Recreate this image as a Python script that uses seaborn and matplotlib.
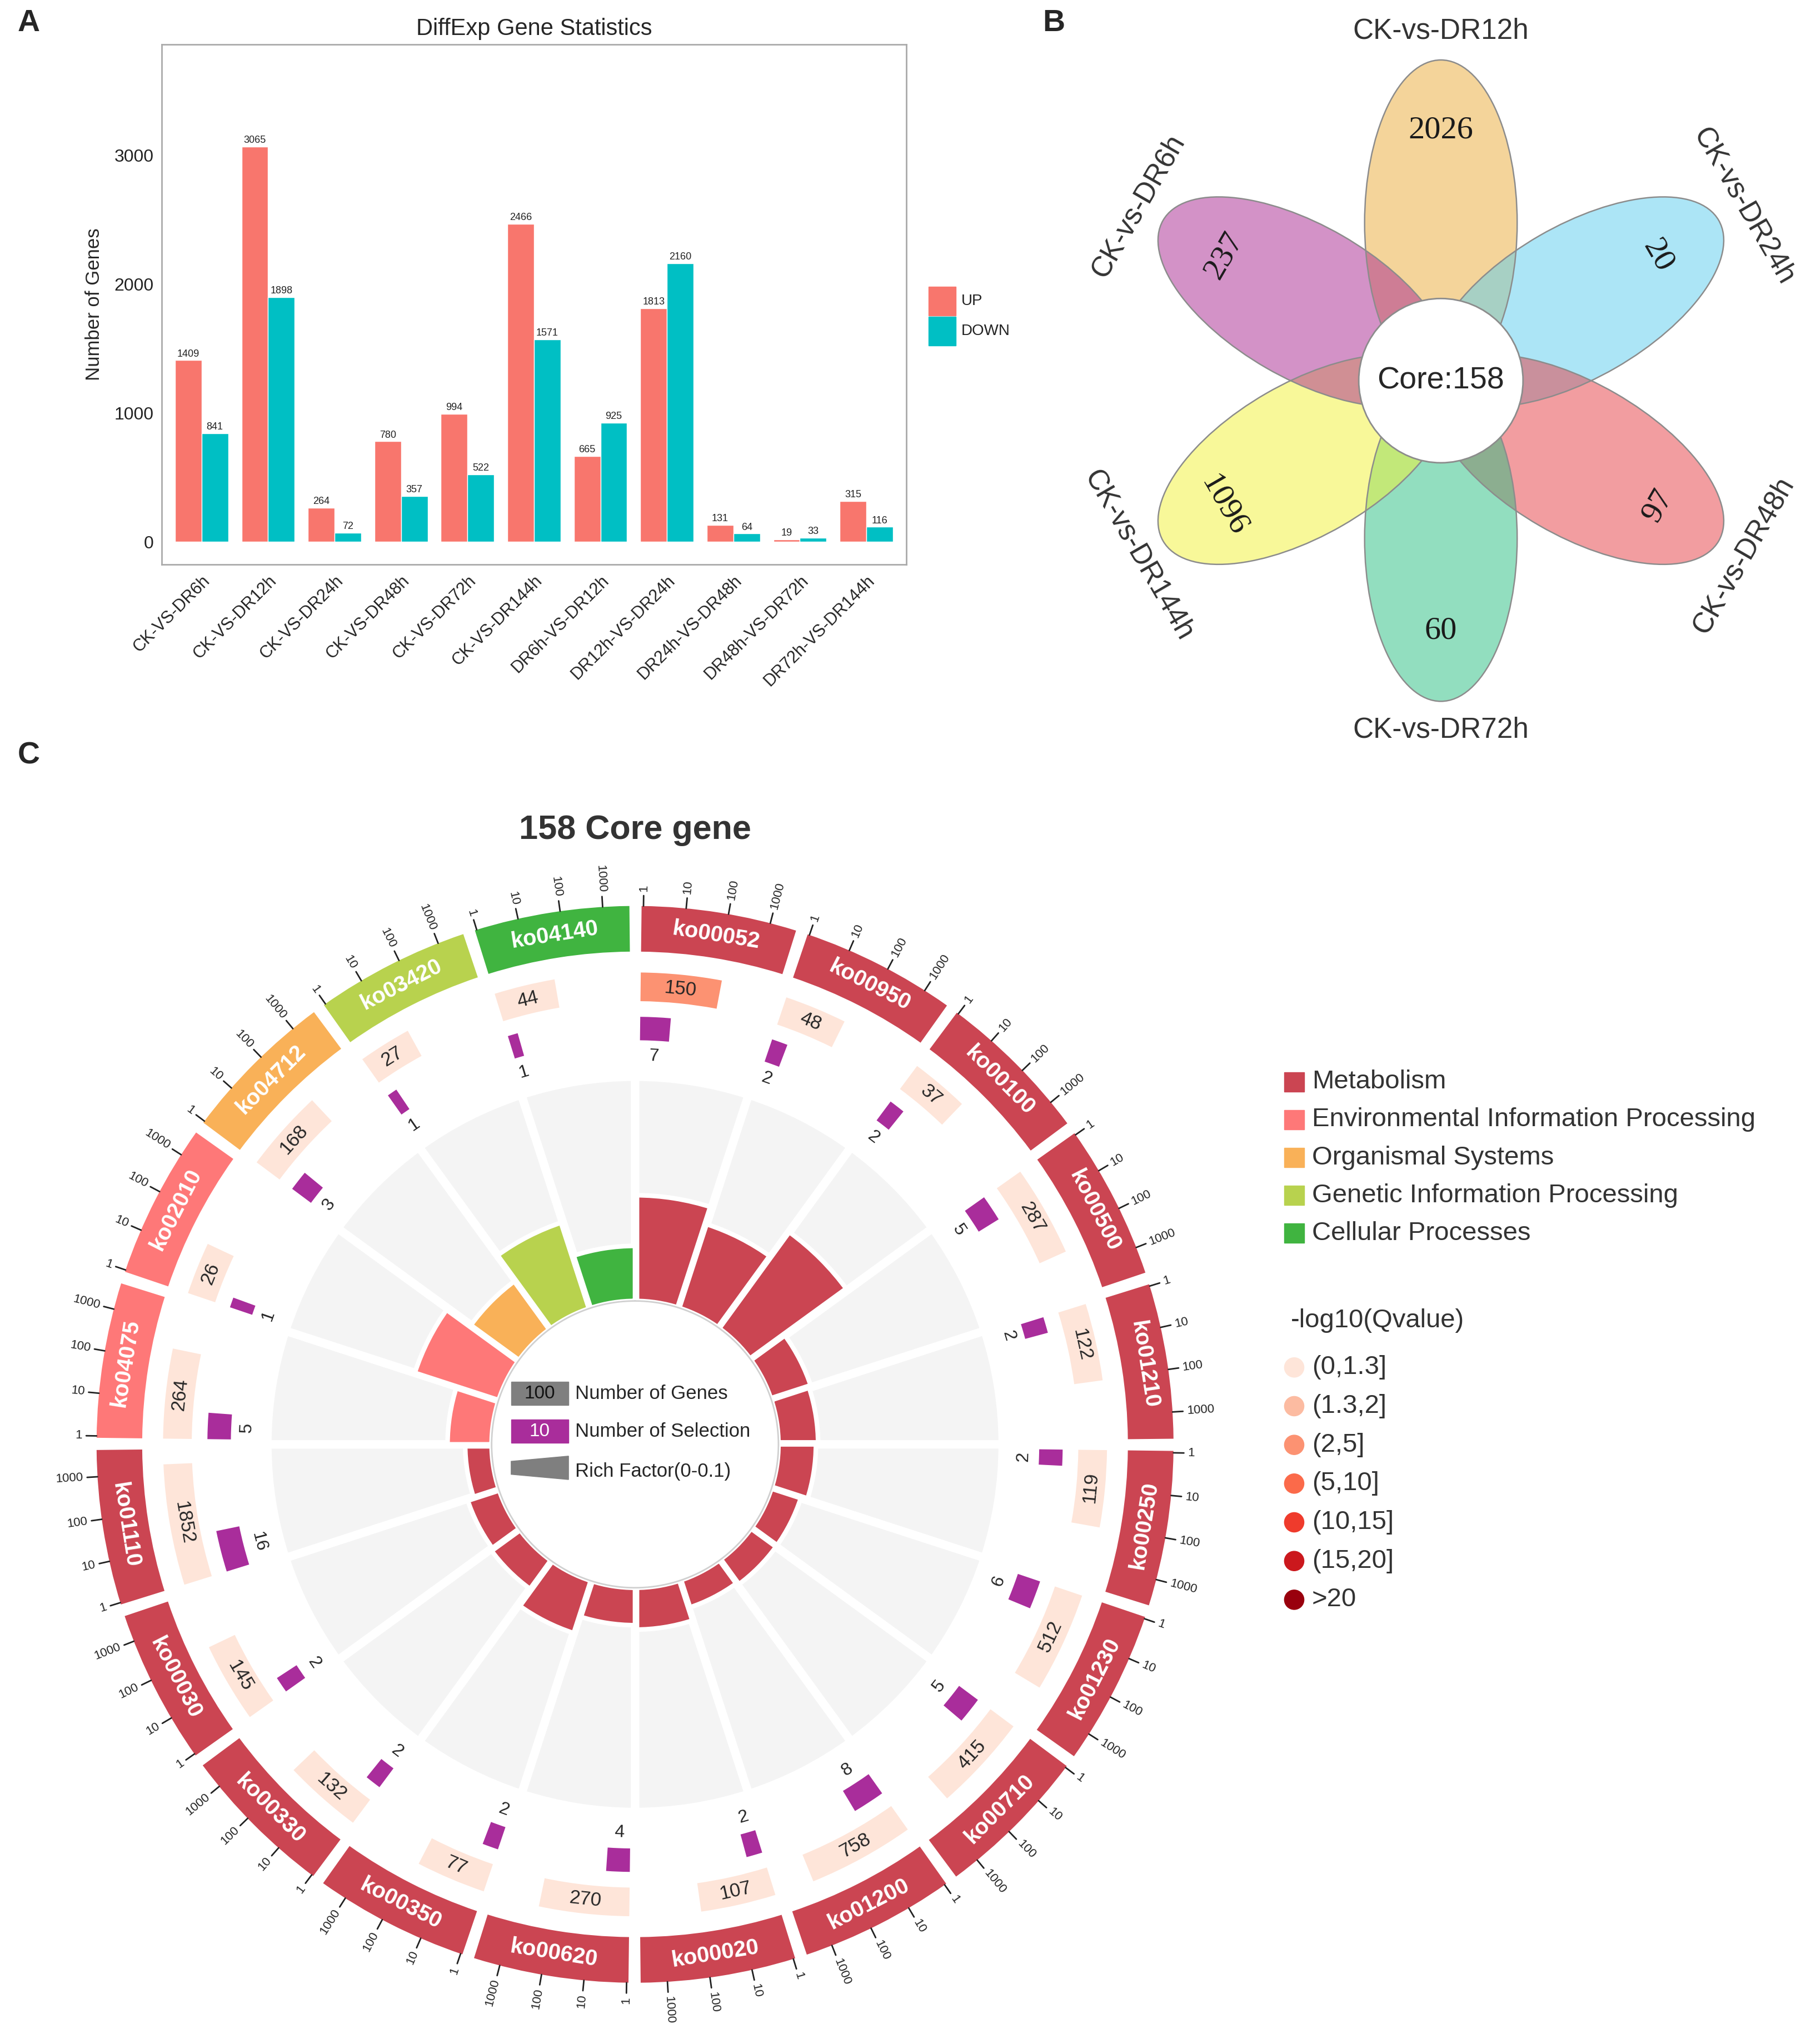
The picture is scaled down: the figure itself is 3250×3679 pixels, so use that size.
import numpy as np
import pandas as pd
import seaborn as sns
import matplotlib
matplotlib.use("Agg")
import matplotlib.pyplot as plt
from matplotlib.patches import Ellipse, Circle, Rectangle, Polygon

# =============================================================================
# Data
# =============================================================================
# panel A: DEG counts
groups = ["CK-VS-DR6h", "CK-VS-DR12h", "CK-VS-DR24h", "CK-VS-DR48h", "CK-VS-DR72h",
          "CK-VS-DR144h", "DR6h-VS-DR12h", "DR12h-VS-DR24h", "DR24h-VS-DR48h",
          "DR48h-VS-DR72h", "DR72h-VS-DR144h"]
up = [1409, 3065, 264, 780, 994, 2466, 665, 1813, 131, 19, 315]
down = [841, 1898, 72, 357, 522, 1571, 925, 2160, 64, 33, 116]
deg_types = ["UP", "DOWN"]
deg_colors = ["#F8766D", "#00BFC4"]

# panel B: flower venn
venn_names = ["CK-vs-DR12h", "CK-vs-DR24h", "CK-vs-DR48h", "CK-vs-DR72h",
              "CK-vs-DR144h", "CK-vs-DR6h"]
venn_unique = [2026, 20, 97, 60, 1096, 237]
venn_colors = ["#EBAB37", "#5BCDEF", "#E73D43", "#27BF81", "#F3F335", "#A92791"]
core_n = 158

# panel C: KEGG circle of the core genes
cats = ["Metabolism", "Environmental Information Processing", "Organismal Systems",
        "Genetic Information Processing", "Cellular Processes"]
cat_colors = ["#CB4552", "#FE7878", "#F9B158", "#B8D24E", "#40B440"]
ko_ids = ["ko00052", "ko00950", "ko00100", "ko00500", "ko01210", "ko00250", "ko01230",
          "ko00710", "ko01200", "ko00020", "ko00620", "ko00350", "ko00330", "ko00030",
          "ko01110", "ko04075", "ko02010", "ko04712", "ko03420", "ko04140"]
ko_cat = [0, 0, 0, 0, 0, 0, 0, 0, 0, 0, 0, 0, 0, 0, 0, 1, 1, 2, 3, 4]
n_genes = [150, 48, 37, 287, 122, 119, 512, 415, 758, 107, 270, 77, 132, 145, 1852,
           264, 26, 168, 27, 44]
n_select = [7, 2, 2, 5, 2, 2, 6, 5, 8, 2, 4, 2, 2, 2, 16, 5, 1, 3, 1, 1]
rich = [0.048, 0.040, 0.054, 0.019, 0.018, 0.017, 0.014, 0.014, 0.013, 0.019, 0.017,
        0.025, 0.016, 0.015, 0.012, 0.020, 0.040, 0.027, 0.041, 0.025]
q_bin = [2, 0, 0, 0, 0, 0, 0, 0, 0, 0, 0, 0, 0, 0, 0, 0, 0, 0, 0, 0]
q_labels = ["(0,1.3]", "(1.3,2]", "(2,5]", "(5,10]", "(10,15]", "(15,20]", ">20"]
q_colors = ["#FEE5D9", "#FCBBA1", "#FC9272", "#FB6A4A", "#EF3B2C", "#CB181D", "#99000D"]

# =============================================================================
# Figure
# =============================================================================
sns.set_style("white")
plt.rcParams["font.family"] = ["Liberation Sans", "DejaVu Sans"]
W, H = 1385, 1568     # layout units (preview pixels)
fig = plt.figure(figsize=(32.5, 36.79), dpi=100)

#%% Panel A - grouped bars
axA = fig.add_axes([124 / W, 1 - 433 / H, (695 - 124) / W, (433 - 34) / H])
dfA = pd.DataFrame({"group": groups * 2,
                    "type": ["UP"] * len(up) + ["DOWN"] * len(down),
                    "value": up + down})
sns.barplot(data=dfA, x="group", y="value", hue="type", hue_order=deg_types,
            palette=deg_colors, saturation=1, width=0.8, errorbar=None,
            legend=False, ax=axA)
for cont in axA.containers:
    axA.bar_label(cont, fontsize=13, padding=2, color="#222222")
axA.set_xlim(-0.6, len(groups) - 0.4)
axA.set_ylim(-175, 3860)
axA.set_yticks([0, 1000, 2000, 3000])
axA.tick_params(axis="y", labelsize=23, length=7, width=1.5, color="#333333",
                labelcolor="#222222")
axA.tick_params(axis="x", length=7, width=1.5, color="#333333", labelcolor="#222222")
axA.set_xticks(range(len(groups)))
axA.set_xticklabels(groups, rotation=45, ha="right", rotation_mode="anchor", fontsize=22)
axA.set_xlabel("")
axA.set_ylabel("Number of Genes", fontsize=25, labelpad=14)
axA.set_title("DiffExp Gene Statistics", fontsize=30, pad=12)
for sp in axA.spines.values():
    sp.set_color("#AAAAAA")
    sp.set_linewidth(2)

#%% Panel C - circular enrichment plot (polar axes)
cx, cy, RMAX = 487, 1108, 470
axC = fig.add_axes([(cx - RMAX) / W, 1 - (cy + RMAX) / H, 2 * RMAX / W, 2 * RMAX / H],
                   projection="polar")
axC.set_theta_zero_location("N")
axC.set_theta_direction(-1)
axC.set_ylim(0, RMAX)
axC.axis("off")

R0, L = 110, 169                  # inner circle, length of rich 0-0.1
SEC, OFF, DEC = 18.0, 0.7, 4.55  # sector width, ring start offset, degrees per decade
rad = np.deg2rad


def trot(t):
    t = t % 360
    return -t if (t <= 90 or t >= 270) else 180 - t


for i, ko in enumerate(ko_ids):
    s = i * SEC
    o = s + OFF
    col = cat_colors[ko_cat[i]]
    # background wedge
    axC.bar(rad(s + SEC / 2), L + 3, width=rad(SEC), bottom=R0, color="#F4F4F4",
            edgecolor="white", linewidth=11)
    # rich factor
    axC.bar(rad(s + SEC / 2), rich[i] / 0.1 * L, width=rad(SEC), bottom=R0, color=col,
            edgecolor="white", linewidth=6)
    # outer ring with ko id
    axC.bar(rad(o + (SEC - 1.3) / 2), 35, width=rad(SEC - 1.3), bottom=378, color=col,
            linewidth=0)
    mid = o + (SEC - 1.3) / 2
    axC.text(rad(mid), 395.5, ko, color="white", fontsize=29, fontweight="bold",
             rotation=trot(mid), rotation_mode="anchor", ha="center", va="center")
    # log ticks
    for d in range(4):
        t = o + 0.2 + d * DEC
        axC.plot([rad(t), rad(t)], [413, 421], color="#222222", lw=2)
        if t % 360 < 180:
            rot, ha = 90 - t, "left"
        else:
            rot, ha = 270 - t, "right"
        axC.text(rad(t), 424, str(10 ** d), fontsize=16, rotation=rot,
                 rotation_mode="anchor", ha=ha, va="center", color="#222222")
    # number of genes
    wg = np.log10(n_genes[i]) * DEC
    axC.bar(rad(o + wg / 2), 22, width=rad(wg), bottom=340, color=q_colors[q_bin[i]],
            linewidth=0)
    axC.text(rad(o + wg / 2), 351, str(n_genes[i]), fontsize=25,
             rotation=trot(o + wg / 2), rotation_mode="anchor", ha="center", va="center")
    # number of selection
    ws = np.log10(n_select[i] + 1) * DEC
    axC.bar(rad(o + ws / 2), 18, width=rad(ws), bottom=310, color="#A92D9B", linewidth=0)
    axC.text(rad(o + ws / 2), 298, str(n_select[i]), fontsize=23,
             rotation=trot(o + ws / 2), rotation_mode="anchor", ha="center", va="center")

th = np.linspace(0, 2 * np.pi, 400)
axC.plot(th, np.full_like(th, R0), color="#D0D0D0", lw=2)

#%% Overlay axes: panel B, labels, legends
axO = fig.add_axes([0, 0, 1, 1])
axO.set_xlim(0, W)
axO.set_ylim(H, 0)
axO.axis("off")

for x, y, lab in [(22, 18, "A"), (808, 18, "B"), (22, 580, "C")]:
    axO.text(x, y, lab, fontsize=40, fontweight="bold", ha="center", va="center")

# legend of panel A
for k, (lab, col) in enumerate(zip(deg_types, deg_colors)):
    y = 220 + 23 * k
    axO.add_patch(Rectangle((712, y), 21, 22, color=col))
    axO.text(737, y + 11, lab, fontsize=20, ha="left", va="center", color="#222222")

# flower venn
vx, vy = 1105, 292
petal_ang = [90, 30, -30, -90, 210, 150]
for col, a in zip(venn_colors, petal_ang):
    ra = np.deg2rad(a)
    axO.add_patch(Ellipse((vx + 121 * np.cos(ra), vy - 121 * np.sin(ra)), 250, 117,
                          angle=-a, facecolor=col, alpha=0.5, edgecolor="none"))
for col, a in zip(venn_colors, petal_ang):
    ra = np.deg2rad(a)
    axO.add_patch(Ellipse((vx + 121 * np.cos(ra), vy - 121 * np.sin(ra)), 250, 117,
                          angle=-a, fill=False, edgecolor="#8C8C8C", lw=1.8))
for name, val, a in zip(venn_names, venn_unique, petal_ang):
    ra = np.deg2rad(a)
    rot = (a % 180) - 90
    axO.text(vx + 192 * np.cos(ra), vy - 192 * np.sin(ra), str(val), rotation=rot,
             fontsize=42, family=["Liberation Serif", "DejaVu Serif"], ha="center",
             va="center", color="#1A1A1A")
    axO.text(vx + 268 * np.cos(ra), vy - 268 * np.sin(ra), name, rotation=rot,
             fontsize=37, ha="center", va="center", color="#333333")
axO.add_patch(Circle((vx, vy), 63, facecolor="white", edgecolor="#8C8C8C", lw=2))
axO.text(vx, vy, "Core:%d" % core_n, fontsize=40, ha="center", va="center")

# panel C title and inner legend
axO.text(487, 637, "158 Core gene", fontsize=44, fontweight="bold", ha="center",
         va="center", color="#333333")
axO.add_patch(Rectangle((392, 1060), 44, 18, color="#7F7F7F"))
axO.text(414, 1069, "100", fontsize=24, ha="center", va="center", color="#111111")
axO.text(441, 1069, "Number of Genes", fontsize=25, ha="left", va="center")
axO.add_patch(Rectangle((392, 1089), 44, 18, color="#A92D9B"))
axO.text(414, 1098, "10", fontsize=24, ha="center", va="center", color="white")
axO.text(441, 1098, "Number of Selection", fontsize=25, ha="left", va="center")
axO.add_patch(Polygon([(392, 1121), (436, 1117), (436, 1135), (392, 1131)],
                      color="#7F7F7F"))
axO.text(441, 1129, "Rich Factor(0-0.1)", fontsize=25, ha="left", va="center")

# right legends
for k, (name, col) in enumerate(zip(cats, cat_colors)):
    y = 830 + 29 * k
    axO.add_patch(Rectangle((985, y - 7.5), 15, 15, color=col))
    axO.text(1006, y, name, fontsize=34, ha="left", va="center", color="#333333")
axO.text(990, 1013, "-log10(Qvalue)", fontsize=34, ha="left", va="center", color="#333333")
for k, (lab, col) in enumerate(zip(q_labels, q_colors)):
    y = 1049 + 29.7 * k
    axO.add_patch(Circle((992.5, y), 7.5, color=col))
    axO.text(1006, y, lab, fontsize=34, ha="left", va="center", color="#333333")

fig.savefig("out.png", dpi=100)
